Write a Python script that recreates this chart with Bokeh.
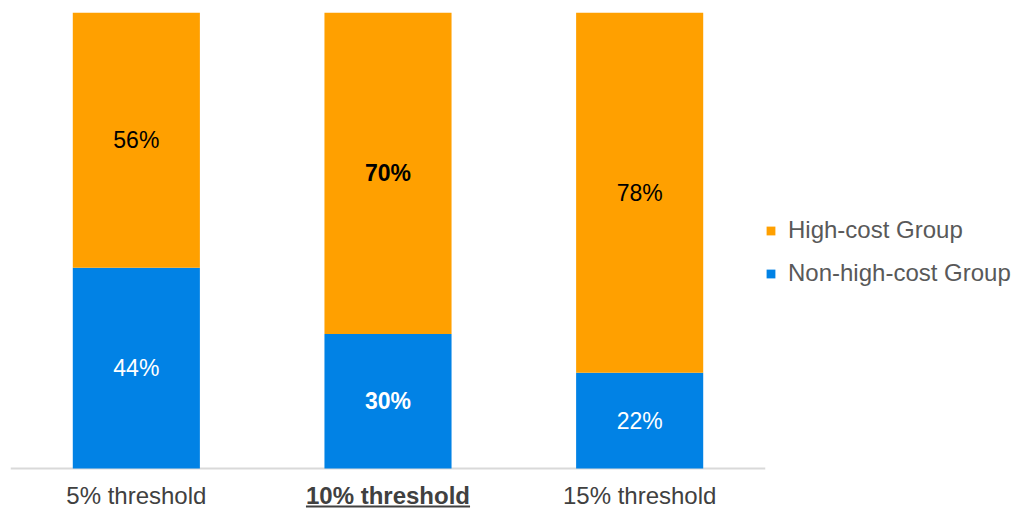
import numpy as np
from bokeh.plotting import figure
from bokeh.models import ColumnDataSource, Range1d, Legend, LegendItem, Span
from bokeh.core.properties import value, field
from bokeh.embed import file_html
from bokeh.resources import INLINE

# ---- data ----
categories = ["5% threshold", "10% threshold", "15% threshold"]
non_high_cost = [0.44, 0.295, 0.21]
high_cost = [0.56, 0.705, 0.79]
non_high_cost_labels = ["44%", "30%", "22%"]
high_cost_labels = ["56%", "70%", "78%"]
emphasis = ["normal", "bold", "normal"]

# ---- styles ----
BLUE = "#0182E5"
ORANGE = "#FFA000"
AXIS_GREY = "#D9D9D9"
TEXT_DARK = "#404040"
LEGEND_TEXT = "#595959"
FONT = "Liberation Sans"

x = np.arange(len(categories)) + 0.5
nh = np.array(non_high_cost)
hc = np.array(high_cost)

src = ColumnDataSource(dict(
    x=x,
    cat=categories,
    nh=nh,
    hc=hc,
    nh_y=nh / 2.0,
    hc_y=nh + hc / 2.0,
    nh_label=non_high_cost_labels,
    hc_label=high_cost_labels,
    style=emphasis,
))

Y_MIN = -0.0877
LABEL_Y = -0.0584
UNDERLINE_Y = -0.0835

p = figure(
    frame_width=755, frame_height=496,
    x_range=Range1d(0, len(categories)), y_range=Range1d(Y_MIN, 1.0),
    output_backend="svg", toolbar_location=None,
    x_axis_location=None, y_axis_location=None,
    min_border_left=10, min_border_top=12, min_border_bottom=0, min_border_right=0,
)
p.outline_line_color = None
p.xgrid.visible = False
p.ygrid.visible = False
p.background_fill_color = "white"
p.border_fill_color = "white"

baseline = Span(location=0, dimension="width", line_color=AXIS_GREY, line_width=2, level="underlay")
p.add_layout(baseline)

rs = p.vbar_stack(["nh", "hc"], x="x", width=0.505, source=src,
                  fill_color=[BLUE, ORANGE], line_color=None)

p.text(x="x", y="nh_y", text="nh_label", source=src, text_align="center",
       text_baseline="middle", text_color="white", text_font=value(FONT),
       text_font_size="23px", text_font_style=field("style"))
p.text(x="x", y="hc_y", text="hc_label", source=src, text_align="center",
       text_baseline="middle", text_color="black", text_font=value(FONT),
       text_font_size="23px", text_font_style=field("style"))

p.text(x="x", y=LABEL_Y, text="cat", source=src, text_align="center",
       text_baseline="alphabetic", text_color=TEXT_DARK, text_font=value(FONT),
       text_font_size="24px", text_font_style=field("style"))

# underline under the emphasised category label
bold_idx = [i for i, s in enumerate(emphasis) if s == "bold"]
ul_src = ColumnDataSource(dict(
    x0=[x[i] - 0.326 for i in bold_idx],
    x1=[x[i] + 0.326 for i in bold_idx],
))
p.segment(x0="x0", x1="x1", y0=UNDERLINE_Y, y1=UNDERLINE_Y, source=ul_src,
          line_color=TEXT_DARK, line_width=2)

legend = Legend(items=[
    LegendItem(label="High-cost Group", renderers=[rs[1]]),
    LegendItem(label="Non-high-cost Group", renderers=[rs[0]]),
], location=(0, 221))
legend.margin = 0
legend.padding = 7
legend.glyph_width = 11
legend.glyph_height = 11
legend.label_standoff = 12
legend.spacing = 15
legend.label_text_font = FONT
legend.label_text_font_size = "24px"
legend.label_text_color = LEGEND_TEXT
legend.border_line_color = None
legend.background_fill_alpha = 0
p.add_layout(legend, "right")

open("out.html", "w").write(file_html(p, INLINE))
